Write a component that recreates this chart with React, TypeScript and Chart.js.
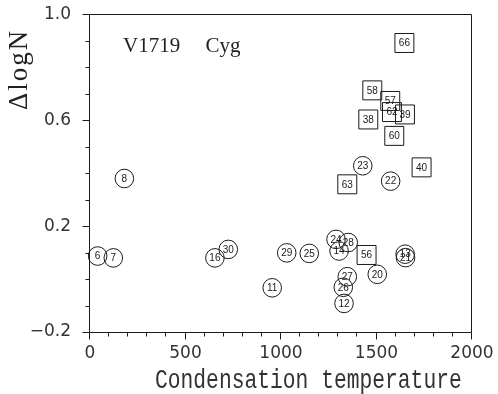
import React, { useEffect, useRef } from 'react';
import { Chart, registerables } from 'chart.js';
Chart.register(...registerables);

const circleLabels = ['6', '7', '8', '11', '12', '13', '14', '16', '20', '21', '22', '23', '24', '25', '26', '27', '28', '29', '30'];
const circleX = [40, 122, 180, 954, 1330, 1650, 1304, 654, 1504, 1652, 1574, 1428, 1288, 1148, 1326, 1347, 1352, 1030, 724];
const circleY = [0.087, 0.08, 0.38, -0.033, -0.092, 0.094, 0.106, 0.08, 0.018, 0.081, 0.37, 0.428, 0.15, 0.097, -0.031, 0.009, 0.138, 0.099, 0.112];

const squareLabels = ['38', '39', '40', '56', '57', '58', '60', '62', '63', '66'];
const squareX = [1457, 1649, 1736, 1448, 1572, 1478, 1593, 1581, 1347, 1646];
const squareY = [0.603, 0.622, 0.422, 0.091, 0.673, 0.713, 0.541, 0.631, 0.358, 0.892];

const xTickValues = [0, 500, 1000, 1500, 2000];
const xTickLabels = ['0', '500', '1000', '1500', '2000'];
const yTickValues = [-0.2, 0.2, 0.6, 1.0];
const yTickLabels = ['\u22120.2', '0.2', '0.6', '1.0'];

const starName = 'V1719 Cyg';
const xTitle = 'Condensation temperature';
const yTitle = '\u0394logN';

const INK = '#1a1a1a';
const TICK_FONT = { family: '"DejaVu Sans"', size: 17 };

function findLabel(values: number[], labels: string[], v: number) {
  for (let i = 0; i < values.length; i++) {
    if (Math.abs(values[i] - v) < 1e-6) return labels[i];
  }
  return '';
}

const decorPlugin = {
  id: 'decor',
  afterDraw(chart: any) {
    const { ctx, chartArea: a, scales } = chart;
    const xs = scales.x;
    const ys = scales.y;
    ctx.save();
    ctx.strokeStyle = INK;
    ctx.lineWidth = 1;
    const L = Math.round(a.left) - 0.5;
    const R = Math.round(a.right) - 0.5;
    const T = Math.round(a.top) + 0.5;
    const B = Math.round(a.bottom) + 0.5;
    ctx.beginPath();
    ctx.moveTo(L, T); ctx.lineTo(R, T); ctx.lineTo(R, B); ctx.lineTo(L, B); ctx.closePath();
    ctx.stroke();
    // ticks from the library's scales
    ctx.beginPath();
    ys.ticks.forEach((t: any) => {
      const p = Math.round(ys.getPixelForValue(t.value)) + 0.5;
      const major = findLabel(yTickValues, yTickLabels, Math.round(t.value * 10) / 10) !== '';
      const len = major ? 7 : 4;
      ctx.moveTo(L - len, p); ctx.lineTo(L, p);
    });
    xs.ticks.forEach((t: any) => {
      const p = Math.round(xs.getPixelForValue(t.value)) - 0.5;
      const major = findLabel(xTickValues, xTickLabels, t.value) !== '';
      const len = major ? 7 : 4;
      ctx.moveTo(p, B); ctx.lineTo(p, B + len);
    });
    ctx.stroke();

    // marker numbers
    ctx.fillStyle = INK;
    ctx.font = '10px "Liberation Sans"';
    ctx.textAlign = 'center';
    ctx.textBaseline = 'middle';
    chart.data.datasets.forEach((ds: any, di: number) => {
      const meta = chart.getDatasetMeta(di);
      meta.data.forEach((el: any, i: number) => {
        ctx.fillText(ds.numbers[i], el.x, el.y + 0.5);
      });
    });

    // star name
    ctx.font = '21px "Liberation Serif"';
    ctx.fillStyle = '#222';
    ctx.textAlign = 'left';
    ctx.textBaseline = 'alphabetic';
    if ('wordSpacing' in ctx) {
      (ctx as any).wordSpacing = '20px';
      ctx.fillText(starName, 123, 52);
      (ctx as any).wordSpacing = '0px';
    } else {
      const parts = starName.split(' ');
      ctx.fillText(parts[0], 123, 52);
      ctx.fillText(parts[1], 207, 52);
    }

    // x title
    ctx.save();
    ctx.font = '21.3px "Liberation Mono"';
    ctx.fillStyle = '#333';
    ctx.textAlign = 'left';
    ctx.translate(155, 388);
    ctx.scale(1, 1.3);
    ctx.fillText(xTitle, 0, 0);
    ctx.restore();

    // y title
    ctx.save();
    ctx.font = '27px "Liberation Serif"';
    ctx.fillStyle = '#222';
    ctx.textAlign = 'left';
    if ('letterSpacing' in ctx) (ctx as any).letterSpacing = '2px';
    ctx.translate(27, 110);
    ctx.rotate(-Math.PI / 2);
    ctx.fillText(yTitle, 0, 0);
    ctx.restore();

    ctx.restore();
  },
};

export default function App() {
  const ref = useRef<HTMLCanvasElement | null>(null);
  useEffect(() => {
    if (!ref.current) return;
    const chart = new Chart(ref.current, {
      type: 'scatter',
      data: {
        datasets: [
          {
            label: 'circles',
            data: circleX.map((x, i) => ({ x, y: circleY[i] })),
            numbers: circleLabels,
            pointStyle: 'circle',
            pointRadius: 9.3,
            pointHoverRadius: 9.3,
            pointBorderWidth: 1,
            borderColor: INK,
            backgroundColor: 'rgba(0,0,0,0)',
            clip: false,
          } as any,
          {
            label: 'squares',
            data: squareX.map((x, i) => ({ x, y: squareY[i] })),
            numbers: squareLabels,
            pointStyle: 'rect',
            pointRadius: 13.4,
            pointHoverRadius: 13.4,
            pointBorderWidth: 1,
            borderColor: INK,
            backgroundColor: 'rgba(0,0,0,0)',
            clip: false,
          } as any,
        ],
      },
      options: {
        animation: false,
        responsive: false,
        devicePixelRatio: 1,
        layout: { padding: { top: 14, right: 26, left: 0, bottom: 0 } },
        plugins: { legend: { display: false }, tooltip: { enabled: false } },
        events: [],
        scales: {
          x: {
            type: 'linear',
            min: 0,
            max: 2000,
            afterFit: (s: any) => { s.height = 62; s.paddingLeft = 0; s.paddingRight = 0; s.paddingTop = 0; s.paddingBottom = 0; },
            border: { display: false },
            grid: { display: false, drawTicks: false },
            ticks: {
              stepSize: 100,
              autoSkip: false,
              maxRotation: 0,
              padding: 11,
              color: '#333',
              font: TICK_FONT,
              callback: (v: any) => findLabel(xTickValues, xTickLabels, Number(v)),
            },
          },
          y: {
            type: 'linear',
            min: -0.2,
            max: 1.0,
            afterFit: (s: any) => { s.width = 90; s.paddingLeft = 0; s.paddingRight = 0; s.paddingTop = 0; s.paddingBottom = 0; },
            border: { display: false },
            grid: { display: false, drawTicks: false },
            ticks: {
              stepSize: 0.1,
              autoSkip: false,
              padding: 19,
              color: '#333',
              font: TICK_FONT,
              callback: (v: any) => findLabel(yTickValues, yTickLabels, Math.round(Number(v) * 10) / 10),
            },
          },
        },
      },
      plugins: [decorPlugin],
    } as any);
    return () => chart.destroy();
  }, []);
  return (
    <div style={{ position: 'fixed', left: 0, top: 0, width: 498, height: 394, background: '#fff' }}>
      <canvas ref={ref} width={498} height={394} style={{ width: 498, height: 394, display: 'block' }} />
    </div>
  );
}
